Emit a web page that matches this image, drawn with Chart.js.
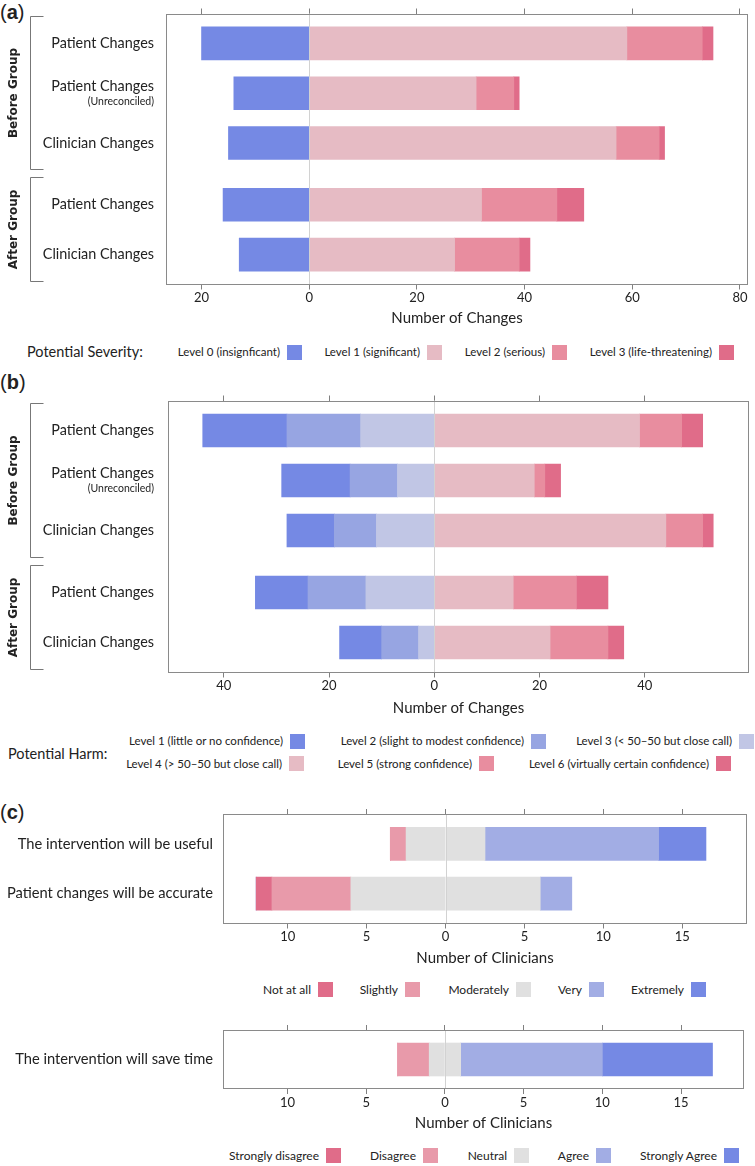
<!DOCTYPE html>
<html>
<head>
<meta charset="utf-8">
<script src="https://cdn.jsdelivr.net/npm/chart.js@4.4.1/dist/chart.umd.min.js"></script>
<style>
  body { margin: 0; background: #fff; }
  #fig { position: relative; width: 755px; height: 1166px; overflow: hidden; font-family: Lato, sans-serif; color: #222; }
  #fig canvas { position: absolute; left: 0; }
  .tag { position: absolute; left: 0; font: 20px "Liberation Sans", Arial, sans-serif; line-height: 20px; }
  .legtitle, .legtxt { position: absolute; white-space: nowrap; line-height: 16px; }
  .legtxt { text-align: right; }
  .sw { position: absolute; width: 15px; height: 15px; }
</style>
</head>
<body>
<div id="fig">
  <div class="tag" style="top:2px">(<b>a</b>)</div>
  <div class="tag" style="top:372px">(<b>b</b>)</div>
  <div class="tag" style="top:802px">(<b>c</b>)</div>
  <canvas id="chartA" width="755" height="330" style="top:0px"></canvas>
  <canvas id="chartB" width="755" height="340" style="top:380px"></canvas>
  <canvas id="chartC1" width="755" height="170" style="top:800px"></canvas>
  <canvas id="chartC2" width="755" height="120" style="top:1015px"></canvas>
</div>
<script>
// rows of panels (a) and (b)
const changeRows = ['Patient Changes', 'Patient Changes', 'Clinician Changes', 'Patient Changes', 'Clinician Changes'];
const changeSubs = ['', '(Unreconciled)', '', '', ''];
const changeGroups = ['Before Group', 'Before Group', 'Before Group', 'After Group', 'After Group'];

// (a) potential severity
const severityNames = ['Level 0 (insignficant)', 'Level 1 (significant)', 'Level 2 (serious)', 'Level 3 (life-threatening)'];
const sevLevel0 = [20, 14, 15, 16, 13];
const sevLevel1 = [59, 31, 57, 32, 27];
const sevLevel2 = [14, 7, 8, 14, 12];
const sevLevel3 = [2, 1, 1, 5, 2];

// (b) potential harm
const harmNames = ['Level 1 (little or no confidence)', 'Level 2 (slight to modest confidence)', 'Level 3 (< 50\u201350 but close call)',
  'Level 4 (> 50\u201350 but close call)', 'Level 5 (strong confidence)', 'Level 6 (virtually certain confidence)'];
const harmLevel1 = [16, 13, 9, 10, 8];
const harmLevel2 = [14, 9, 8, 11, 7];
const harmLevel3 = [14, 7, 11, 13, 3];
const harmLevel4 = [39, 19, 44, 15, 22];
const harmLevel5 = [8, 2, 7, 12, 11];
const harmLevel6 = [4, 3, 2, 6, 3];

// (c) clinician survey
const opinionRows = ['The intervention will be useful', 'Patient changes will be accurate'];
const opinionNames = ['Not at all', 'Slightly', 'Moderately', 'Very', 'Extremely'];
const notAtAll = [0, 1];
const slightly = [1, 5];
const moderately = [5, 12];
const very = [11, 2];
const extremely = [3, 0];

const agreeRows = ['The intervention will save time'];
const agreeNames = ['Strongly disagree', 'Disagree', 'Neutral', 'Agree', 'Strongly Agree'];
const stronglyDisagree = [0];
const disagree = [2];
const neutral = [2];
const agree = [9];
const stronglyAgree = [7];

const C = {
  blue1: '#7589e4', blue2: '#97a5e2', blue3: '#c1c6e5', blueVery: '#a2ade4',
  pink1: '#e6bbc4', pink2: '#e88d9f', pink3: '#e06c89', pinkSlight: '#e89aaa', gray: '#e0e0e0'
};

Chart.defaults.font.family = 'Lato, sans-serif';
Chart.defaults.color = '#222';

const GROUP_GAP = 0.24;
function rowPositions(groups) {
  let p = 0;
  return groups.map((g, i) => {
    if (i > 0 && g !== groups[i - 1]) p += GROUP_GAP;
    const v = p;
    p += 1;
    return v;
  });
}

function bars(label, values, color, sign, pos) {
  return {
    label,
    data: values.map((v, i) => ({x: sign * v, y: pos[i]})),
    backgroundColor: color,
    barThickness: 33,
    borderWidth: 0,
  };
}

// frame, zero line, row labels and group brackets
const decor = {
  id: 'decor',
  afterDraw(chart, args, o) {
    const {ctx, chartArea: a, scales: {x, y}} = chart;
    ctx.save();
    const x0 = Math.round(x.getPixelForValue(0)) + 0.5;
    ctx.strokeStyle = '#d2d2d2';
    ctx.lineWidth = 1;
    ctx.beginPath();
    ctx.moveTo(x0, a.top);
    ctx.lineTo(x0, a.bottom);
    ctx.stroke();

    ctx.strokeStyle = '#8a8a8a';
    ctx.strokeRect(Math.round(a.left) + 0.5, Math.round(a.top) + 0.5, Math.round(a.width) - 1, Math.round(a.height) - 1);

    ctx.fillStyle = '#222';
    ctx.textAlign = 'right';
    ctx.textBaseline = 'middle';
    o.rows.forEach((r, i) => {
      const py = y.getPixelForValue(o.pos[i]);
      const sub = o.subs ? o.subs[i] : '';
      ctx.font = o.labelSize + 'px Lato';
      if (sub) {
        ctx.fillText(r, o.labelRight, py - 7);
        ctx.font = '10.5px Lato';
        ctx.fillText(sub, o.labelRight, py + 8);
      } else {
        ctx.fillText(r, o.labelRight, py);
      }
    });

    if (o.groups) {
      const names = [...new Set(o.groups)];
      names.forEach(name => {
        const idx = o.groups.map((g, i) => g === name ? i : -1).filter(i => i >= 0);
        const y1 = Math.round(y.getPixelForValue(o.pos[idx[0]] - 0.55)) + 0.5;
        const y2 = Math.round(y.getPixelForValue(o.pos[idx[idx.length - 1]] + 0.52)) + 0.5;
        ctx.strokeStyle = '#777';
        ctx.beginPath();
        ctx.moveTo(43.5, y1);
        ctx.lineTo(30.5, y1);
        ctx.lineTo(30.5, y2);
        ctx.lineTo(43.5, y2);
        ctx.stroke();
        ctx.save();
        ctx.translate(14, (y1 + y2) / 2);
        ctx.rotate(-Math.PI / 2);
        ctx.textAlign = 'center';
        ctx.font = 'bold 12px "DejaVu Sans"';
        ctx.fillText(name, 0, 0);
        ctx.restore();
      });
    }
    ctx.restore();
  }
};

function makeChart(id, cfg) {
  const canvas = document.getElementById(id);
  const cTop = parseFloat(canvas.style.top);
  const cH = canvas.height;
  const lastPos = cfg.pos[cfg.pos.length - 1];
  new Chart(canvas, {
    type: 'bar',
    data: {datasets: cfg.datasets},
    plugins: [decor],
    options: {
      indexAxis: 'y',
      responsive: false,
      animation: false,
      devicePixelRatio: 1,
      layout: {padding: {left: cfg.left, right: 755 - cfg.right, top: cfg.top - cTop - 5, bottom: 0}},
      plugins: {
        legend: {display: false},
        tooltip: {enabled: false},
        decor: {rows: cfg.rows, subs: cfg.subs, groups: cfg.groups, pos: cfg.pos, labelRight: cfg.labelRight, labelSize: cfg.labelSize},
      },
      scales: {
        x: {
          type: 'linear', position: 'bottom', stacked: true, min: cfg.min, max: cfg.max,
          afterFit: s => { s.height = cTop + cH - cfg.bottom; },
          border: {display: false},
          grid: {drawOnChartArea: false, tickLength: 5, color: '#808080'},
          ticks: {stepSize: cfg.step, includeBounds: false, padding: 1, font: {size: 13}, callback: v => Math.abs(v)},
          title: {display: true, text: cfg.xTitle, font: {size: 15}, padding: {top: 0, bottom: 3}},
        },
        x2: {
          type: 'linear', position: 'top', min: cfg.min, max: cfg.max,
          afterFit: s => { s.height = 5; },
          border: {display: false},
          grid: {drawOnChartArea: false, tickLength: 5, color: '#808080'},
          ticks: {display: false, stepSize: cfg.step, includeBounds: false},
        },
        y: {type: 'linear', display: false, reverse: true, stacked: true, offset: false, grace: 0, min: -0.6, max: lastPos + 0.6},
      },
    },
  });
}

// panel (a)
const posAB = rowPositions(changeGroups);
makeChart('chartA', {
  left: 166, right: 748, top: 13.5, bottom: 284.5, min: -26.6, max: 81.5, step: 20,
  rows: changeRows, subs: changeSubs, groups: changeGroups, pos: posAB, labelRight: 154, labelSize: 14.4,
  xTitle: 'Number of Changes',
  datasets: [
    bars(severityNames[0], sevLevel0, C.blue1, -1, posAB),
    bars(severityNames[1], sevLevel1, C.pink1, 1, posAB),
    bars(severityNames[2], sevLevel2, C.pink2, 1, posAB),
    bars(severityNames[3], sevLevel3, C.pink3, 1, posAB),
  ],
});

// panel (b)
makeChart('chartB', {
  left: 168, right: 749, top: 400.5, bottom: 672.5, min: -50.6, max: 59.8, step: 20,
  rows: changeRows, subs: changeSubs, groups: changeGroups, pos: posAB, labelRight: 154, labelSize: 14.4,
  xTitle: 'Number of Changes',
  datasets: [
    bars(harmNames[2], harmLevel3, C.blue3, -1, posAB),
    bars(harmNames[1], harmLevel2, C.blue2, -1, posAB),
    bars(harmNames[0], harmLevel1, C.blue1, -1, posAB),
    bars(harmNames[3], harmLevel4, C.pink1, 1, posAB),
    bars(harmNames[4], harmLevel5, C.pink2, 1, posAB),
    bars(harmNames[5], harmLevel6, C.pink3, 1, posAB),
  ],
});

// panel (c), neutral answers are split half left, half right
const half = arr => arr.map(v => v / 2);
const posC1 = opinionRows.map((r, i) => i);
makeChart('chartC1', {
  left: 223, right: 747, top: 814, bottom: 923.5, min: -14.1, max: 19.1, step: 5,
  rows: opinionRows, pos: posC1, labelRight: 213, labelSize: 14.7,
  xTitle: 'Number of Clinicians',
  datasets: [
    bars(opinionNames[2], half(moderately), C.gray, -1, posC1),
    bars(opinionNames[1], slightly, C.pinkSlight, -1, posC1),
    bars(opinionNames[0], notAtAll, C.pink3, -1, posC1),
    bars(opinionNames[2], half(moderately), C.gray, 1, posC1),
    bars(opinionNames[3], very, C.blueVery, 1, posC1),
    bars(opinionNames[4], extremely, C.blue1, 1, posC1),
  ],
});

const posC2 = agreeRows.map((r, i) => i);
makeChart('chartC2', {
  left: 223, right: 744, top: 1030, bottom: 1089, min: -14.1, max: 19.0, step: 5,
  rows: agreeRows, pos: posC2, labelRight: 213, labelSize: 14.7,
  xTitle: 'Number of Clinicians',
  datasets: [
    bars(agreeNames[2], half(neutral), C.gray, -1, posC2),
    bars(agreeNames[1], disagree, C.pinkSlight, -1, posC2),
    bars(agreeNames[0], stronglyDisagree, C.pink3, -1, posC2),
    bars(agreeNames[2], half(neutral), C.gray, 1, posC2),
    bars(agreeNames[3], agree, C.blueVery, 1, posC2),
    bars(agreeNames[4], stronglyAgree, C.blue1, 1, posC2),
  ],
});

// legends: text sits to the left of its swatch
const fig = document.getElementById('fig');
function legendTitle(text, x, cy, size) {
  const d = document.createElement('div');
  d.className = 'legtitle';
  d.textContent = text;
  d.style.left = x + 'px';
  d.style.top = (cy - 8) + 'px';
  d.style.fontSize = size + 'px';
  fig.appendChild(d);
}
function legendItem(text, color, swX, cy, size) {
  const sw = document.createElement('div');
  sw.className = 'sw';
  sw.style.left = swX + 'px';
  sw.style.top = (cy - 7.5) + 'px';
  sw.style.background = color;
  fig.appendChild(sw);
  const t = document.createElement('div');
  t.className = 'legtxt';
  t.textContent = text;
  t.style.right = (755 - swX + 7) + 'px';
  t.style.top = (cy - 8) + 'px';
  t.style.fontSize = size + 'px';
  fig.appendChild(t);
}

legendTitle('Potential Severity:', 27, 352, 14.5);
[C.blue1, C.pink1, C.pink2, C.pink3].forEach((c, i) =>
  legendItem(severityNames[i], c, [287, 427, 552, 719][i], 352, 11.5));

legendTitle('Potential Harm:', 8, 754, 14.5);
[C.blue1, C.blue2, C.blue3].forEach((c, i) =>
  legendItem(harmNames[i], c, [290, 531, 739][i], 741, 11.5));
[C.pink1, C.pink2, C.pink3].forEach((c, i) =>
  legendItem(harmNames[i + 3], c, [289, 479, 716][i], 763.5, 11.5));

[C.pink3, C.pinkSlight, C.gray, C.blueVery, C.blue1].forEach((c, i) =>
  legendItem(opinionNames[i], c, [318, 405, 516, 589, 691][i], 989.5, 12));
[C.pink3, C.pinkSlight, C.gray, C.blueVery, C.blue1].forEach((c, i) =>
  legendItem(agreeNames[i], c, [326, 423, 514, 596, 724][i], 1155.5, 12));
</script>
</body>
</html>
